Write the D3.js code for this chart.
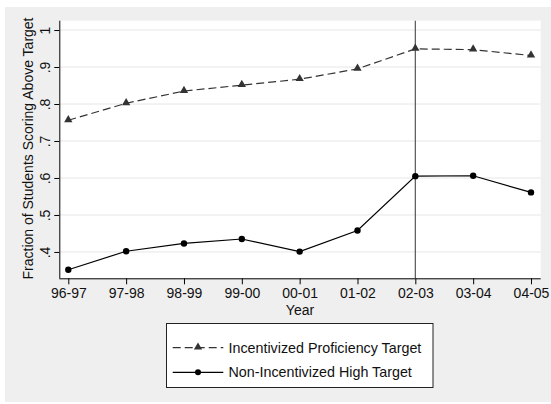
<!DOCTYPE html>
<html>
<head>
<meta charset="utf-8">
<script src="https://cdn.jsdelivr.net/npm/d3@7"></script>
<style>
  html, body { margin: 0; padding: 0; background: #ffffff; }
  svg { display: block; }
  text { font-family: "Liberation Sans", Arial, sans-serif; fill: #111; }
</style>
</head>
<body>
<svg id="chart" width="551" height="404"></svg>
<script>
// School years on the x axis
const years = ["96-97", "97-98", "98-99", "99-00", "00-01", "01-02", "02-03", "03-04", "04-05"];
// Share of students above the incentivized proficiency target
const proficiency = [0.756, 0.802, 0.835, 0.851, 0.867, 0.895, 0.949, 0.947, 0.931];
// Share of students above the non-incentivized high target
const highTarget = [0.352, 0.402, 0.423, 0.435, 0.401, 0.458, 0.605, 0.606, 0.561];
// Y axis ticks and labels
const yTicks = [0.4, 0.5, 0.6, 0.7, 0.8, 0.9, 1];
const yTickLabels = [".4", ".5", ".6", ".7", ".8", ".9", "1"];
// Year the policy took effect (reference line)
const policyYear = "02-03";
const seriesNames = ["Incentivized Proficiency Target", "Non-Incentivized High Target"];

const svg = d3.select("#chart");
const plot = { left: 59.3, right: 540.7, top: 20.7, bottom: 278.3 };
const fontSize = 14;

// Outer panel
svg.append("rect").attr("x", 5).attr("y", 7).attr("width", 546).attr("height", 395).attr("fill", "#efefef");
// Plot area
svg.append("rect").attr("x", plot.left).attr("y", plot.top)
  .attr("width", plot.right - plot.left).attr("height", plot.bottom - plot.top).attr("fill", "#ffffff");

const x = d3.scalePoint().domain(years).range([68.3, 531]);
const y = d3.scaleLinear().domain([0.3288, 1.0252]).range([plot.bottom, plot.top]);

// Horizontal grid
svg.append("g").selectAll("line").data(yTicks).join("line")
  .attr("x1", plot.left).attr("x2", plot.right)
  .attr("y1", d => y(d)).attr("y2", d => y(d))
  .attr("stroke", "#e6e6e6").attr("stroke-width", 1);

// Y axis
const yAxis = svg.append("g").attr("transform", `translate(${plot.left},0)`)
  .call(d3.axisLeft(y).tickValues(yTicks).tickSize(5).tickPadding(0)
    .tickFormat((d, i) => yTickLabels[i]));
yAxis.select(".domain").attr("stroke", "#000").attr("d", `M0.5,${plot.top}V${plot.bottom}`);
yAxis.selectAll(".tick line").attr("stroke", "#000");
yAxis.selectAll(".tick text")
  .attr("font-size", fontSize).attr("font-family", "Liberation Sans, Arial, sans-serif").attr("fill", "#111")
  .attr("x", null).attr("dy", null)
  .attr("text-anchor", "middle")
  .attr("transform", "translate(-9,0) rotate(-90)")
  .attr("y", 0);

// X axis
const xAxis = svg.append("g").attr("transform", `translate(0,${plot.bottom})`)
  .call(d3.axisBottom(x).tickSize(6).tickPadding(4));
xAxis.select(".domain").attr("stroke", "#000").attr("d", `M${plot.left},0.5H${plot.right}`);
xAxis.selectAll(".tick line").attr("stroke", "#000");
xAxis.selectAll(".tick text")
  .attr("font-size", fontSize).attr("font-family", "Liberation Sans, Arial, sans-serif").attr("fill", "#111");

// Axis titles
svg.append("text").attr("x", 300).attr("y", 314.5).attr("text-anchor", "middle")
  .attr("font-size", fontSize).text("Year");
svg.append("text").attr("transform", `translate(33,${(plot.top + plot.bottom) / 2 - 1}) rotate(-90)`)
  .attr("text-anchor", "middle").attr("font-size", fontSize)
  .text("Fraction of Students Scoring Above Target");

// Reference line at the policy year
svg.append("line")
  .attr("x1", x(policyYear)).attr("x2", x(policyYear))
  .attr("y1", plot.top).attr("y2", plot.bottom)
  .attr("stroke", "#555").attr("stroke-width", 1.2);

const line = d3.line().x((d, i) => x(years[i])).y(d => y(d));
const tri = d3.symbol().type(d3.symbolTriangle).size(30);

// Incentivized series: dashed with triangles
svg.append("path").datum(proficiency).attr("d", line)
  .attr("fill", "none").attr("stroke", "#333").attr("stroke-width", 1.2)
  .attr("stroke-dasharray", "8,4");
svg.append("g").selectAll("path").data(proficiency).join("path")
  .attr("d", tri).attr("transform", (d, i) => `translate(${x(years[i])},${y(d) - 0.5})`)
  .attr("fill", "#333");

// Non-incentivized series: solid with circles
svg.append("path").datum(highTarget).attr("d", line)
  .attr("fill", "none").attr("stroke", "#000").attr("stroke-width", 1.2);
svg.append("g").selectAll("circle").data(highTarget).join("circle")
  .attr("cx", (d, i) => x(years[i])).attr("cy", d => y(d)).attr("r", 3.2)
  .attr("fill", "#000");

// Legend
const lg = svg.append("g");
lg.append("rect").attr("x", 166.5).attr("y", 323.5).attr("width", 266.5).attr("height", 64)
  .attr("fill", "#fff").attr("stroke", "#222").attr("stroke-width", 1);
const rows = [347.7, 372.3];
lg.append("line").attr("x1", 172.7).attr("x2", 223.3).attr("y1", rows[0]).attr("y2", rows[0])
  .attr("stroke", "#333").attr("stroke-width", 1.2).attr("stroke-dasharray", "8,4");
lg.append("path").attr("d", tri).attr("transform", `translate(198,${rows[0] - 0.5})`).attr("fill", "#333");
lg.append("line").attr("x1", 172.7).attr("x2", 223.3).attr("y1", rows[1]).attr("y2", rows[1])
  .attr("stroke", "#000").attr("stroke-width", 1.2);
lg.append("circle").attr("cx", 198).attr("cy", rows[1]).attr("r", 3).attr("fill", "#000");
lg.selectAll("text.lab").data(seriesNames).join("text").attr("class", "lab")
  .attr("x", 228.5).attr("y", (d, i) => rows[i]).attr("dy", "0.35em")
  .attr("font-size", 14.3).text(d => d);
</script>
</body>
</html>
